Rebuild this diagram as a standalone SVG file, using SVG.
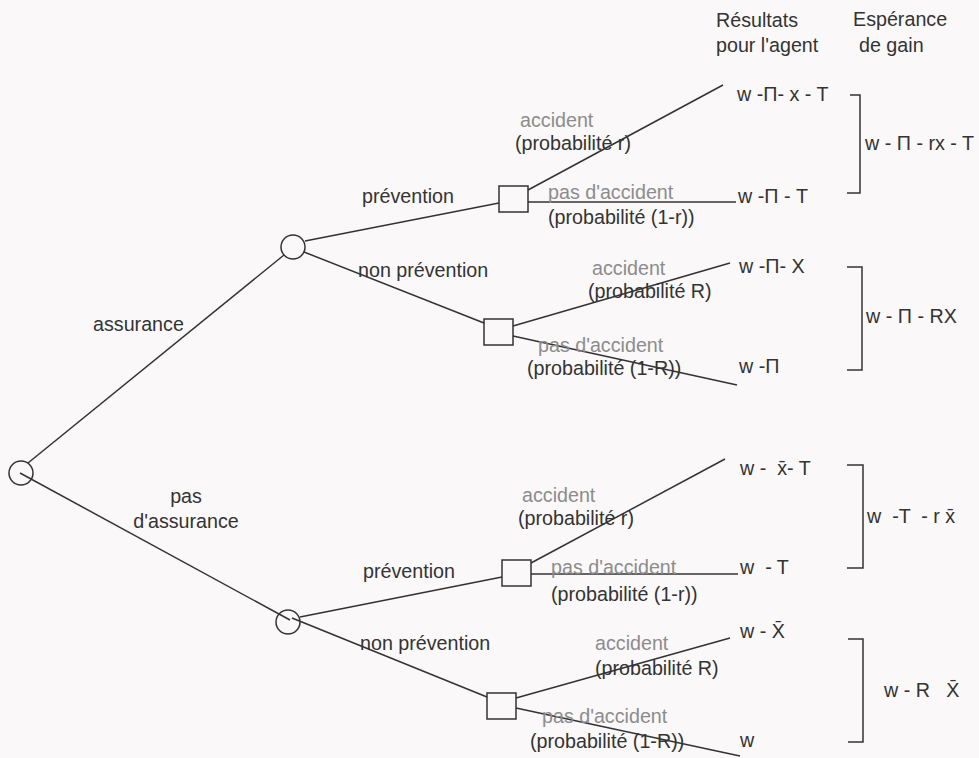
<svg xmlns="http://www.w3.org/2000/svg" width="979" height="758" viewBox="0 0 979 758">
<style>
text{font-family:"Liberation Sans",Arial,sans-serif;font-size:19.7px;fill:#333}
.g{fill:#8c8c8c}
.ln{stroke:#333;stroke-width:1.5;fill:none}
.nd{stroke:#333;stroke-width:1.5;fill:none}
</style>
<rect width="979" height="758" fill="#faf8f9"/>
<g id="connectors" class="ln">
<line x1="28" y1="463" x2="284" y2="255"/>
<line x1="20" y1="473" x2="290" y2="620"/>
<line x1="305" y1="241" x2="499" y2="203"/>
<line x1="304" y1="252" x2="484" y2="323"/>
<line x1="300" y1="617" x2="502" y2="577"/>
<line x1="292" y1="618" x2="487" y2="697"/>
<line x1="528" y1="190" x2="723" y2="85"/>
<line x1="528" y1="202" x2="736" y2="202"/>
<line x1="513" y1="326" x2="730" y2="263"/>
<line x1="513" y1="336" x2="737" y2="385"/>
<line x1="531" y1="563" x2="725" y2="459"/>
<line x1="531" y1="574" x2="738" y2="574"/>
<line x1="516" y1="698" x2="730" y2="638"/>
<line x1="516" y1="708" x2="740" y2="756"/>
</g>
<g id="root"><circle class="nd" cx="21" cy="473" r="12"/></g>
<g id="chance-assurance"><circle class="nd" cx="293" cy="247" r="12"/></g>
<g id="chance-pas-assurance"><circle class="nd" cx="288" cy="622" r="12"/></g>
<g id="decision-1"><rect class="nd" x="499" y="186" width="29" height="26"/></g>
<g id="decision-2"><rect class="nd" x="484" y="319" width="29" height="26"/></g>
<g id="decision-3"><rect class="nd" x="502" y="560" width="29" height="26"/></g>
<g id="decision-4"><rect class="nd" x="487" y="693" width="29" height="26"/></g>
<g id="labels">
<text x="93" y="331">assurance</text>
<text x="186" y="503" text-anchor="middle">pas</text>
<text x="186" y="528" text-anchor="middle">d'assurance</text>
<text x="362" y="203">prévention</text>
<text x="358" y="277">non prévention</text>
<text x="363" y="578">prévention</text>
<text x="360" y="650">non prévention</text>
<text class="g" x="520" y="127">accident</text>
<text x="515" y="150">(probabilité r)</text>
<text class="g" x="548" y="199">pas d'accident</text>
<text x="548" y="224">(probabilité (1-r))</text>
<text class="g" x="592" y="275">accident</text>
<text x="588" y="298">(probabilité R)</text>
<text class="g" x="538" y="352">pas d'accident</text>
<text x="527" y="375">(probabilité (1-R))</text>
<text class="g" x="522" y="502">accident</text>
<text x="518" y="525">(probabilité r)</text>
<text class="g" x="551" y="574">pas d'accident</text>
<text x="551" y="601">(probabilité (1-r))</text>
<text class="g" x="595" y="650">accident</text>
<text x="595" y="675">(probabilité R)</text>
<text class="g" x="542" y="723">pas d'accident</text>
<text x="530" y="748">(probabilité (1-R))</text>
</g>
<g id="results">
<text x="716" y="27">Résultats</text>
<text x="716" y="52">pour l'agent</text>
<text x="853" y="26">Espérance</text>
<text x="859" y="52">de gain</text>
<text x="737" y="101">w -Π- x - T</text>
<text x="738" y="203">w -Π - T</text>
<text x="739" y="273">w -Π- X</text>
<text x="739" y="373">w -Π</text>
<text x="740" y="475" xml:space="preserve">w -  x̄- T</text>
<text x="740" y="574" xml:space="preserve">w  - T</text>
<text x="740" y="638">w - X̄</text>
<text x="740" y="747">w</text>
</g>
<g id="expectations">
<polyline class="ln" points="850,95 860,95 860,193 847,193"/>
<polyline class="ln" points="847,267 862,267 862,370 847,370"/>
<polyline class="ln" points="847,465 863,465 863,568 847,568"/>
<polyline class="ln" points="848,639 863,639 863,742 848,742"/>
<text x="865" y="150">w - Π - rx - T</text>
<text x="866" y="323">w - Π - RX</text>
<text x="867" y="523" xml:space="preserve">w  -T  - r x̄</text>
<text x="884" y="697" xml:space="preserve">w - R   X̄</text>
</g>
</svg>
